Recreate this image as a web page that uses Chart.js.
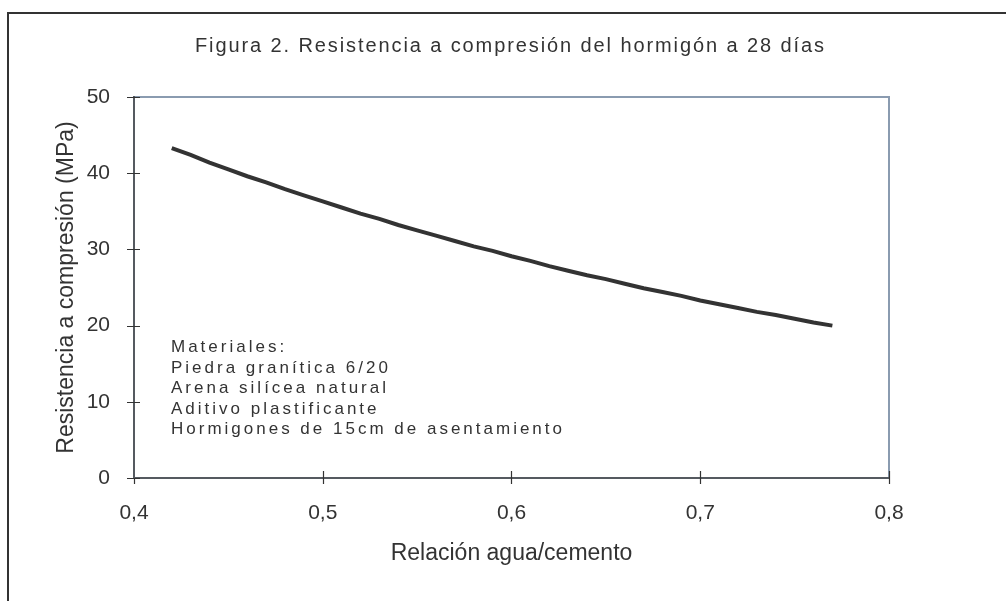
<!DOCTYPE html>
<html><head><meta charset="utf-8">
<script src="https://cdn.jsdelivr.net/npm/chart.js@4/dist/chart.umd.min.js"></script>
<style>html,body{margin:0;padding:0;background:#fff;}#wrap{width:1006px;height:601px;position:relative;}</style>
</head><body><div id="wrap"><canvas id="c" width="1006" height="601"></canvas></div>
<script>
const waterCementRatio = [0.42,0.43,0.44,0.45,0.46,0.47,0.48,0.49,0.50,0.51,0.52,0.53,0.54,0.55,0.56,0.57,0.58,0.59,0.60,0.61,0.62,0.63,0.64,0.65,0.66,0.67,0.68,0.69,0.70,0.71,0.72,0.73,0.74,0.75,0.76,0.77];
const strengthMPa = [43.3,42.4,41.4,40.5,39.6,38.8,37.9,37.1,36.3,35.5,34.7,34.0,33.2,32.5,31.8,31.1,30.4,29.8,29.1,28.5,27.8,27.2,26.6,26.1,25.5,24.9,24.4,23.9,23.3,22.8,22.3,21.8,21.4,20.9,20.4,20.0];
const xTickValues = [0.4,0.5,0.6,0.7,0.8];
const xTickLabels = ['0,4','0,5','0,6','0,7','0,8'];
const yTickValues = [0,10,20,30,40,50];
const yTickLabels = ['0','10','20','30','40','50'];
const chartTitle = 'Figura 2. Resistencia a compresión del hormigón a 28 días';
const xAxisTitle = 'Relación agua/cemento';
const yAxisTitle = 'Resistencia a compresión (MPa)';
const noteLines = ['Materiales:','Piedra granítica 6/20','Arena silícea natural','Aditivo plastificante','Hormigones de 15cm de asentamiento'];

const FONT = '"Liberation Sans", Arial, sans-serif';
const TXT = '#333333';

function labelFor(values, labels, v){
  for (let i=0;i<values.length;i++){ if (Math.abs(values[i]-v)<1e-6) return labels[i]; }
  return '';
}

const decor = {
  id:'decor',
  beforeDatasetsDraw(chart){
    const {ctx, chartArea:a, scales:{x,y}} = chart;
    ctx.save();
    ctx.fillStyle = '#333333';
    ctx.fillRect(7,12,1006,2);
    ctx.fillRect(7,12,2,601);
    ctx.strokeStyle = '#8a9bb0';
    ctx.lineWidth = 2;
    ctx.beginPath();
    ctx.moveTo(a.left, a.top); ctx.lineTo(a.right, a.top); ctx.lineTo(a.right, a.bottom);
    ctx.stroke();
    ctx.strokeStyle = '#555a60';
    ctx.beginPath();
    ctx.moveTo(a.left, a.top-1); ctx.lineTo(a.left, a.bottom); ctx.lineTo(a.right, a.bottom);
    ctx.stroke();
    ctx.lineWidth = 1.2;
    ctx.strokeStyle = '#333333';
    ctx.beginPath();
    yTickValues.forEach(v=>{
      const py = Math.round(y.getPixelForValue(v))+0.5;
      ctx.moveTo(a.left-7, py); ctx.lineTo(a.left+6, py);
    });
    xTickValues.forEach((v,i)=>{
      const px = Math.round(x.getPixelForValue(v))+0.5;
      const up = (i===0)?0:7;
      ctx.moveTo(px, a.bottom-up); ctx.lineTo(px, a.bottom+6);
    });
    ctx.stroke();
    ctx.fillStyle = TXT;
    ctx.font = '20px ' + FONT;
    ctx.textAlign = 'left';
    ctx.textBaseline = 'alphabetic';
    ctx.letterSpacing = '1.9px';
    ctx.fillText(chartTitle, 195, 52);
    ctx.font = '17px ' + FONT;
    ctx.letterSpacing = '3px';
    noteLines.forEach((t,i)=>{ ctx.fillText(t, 171, 352 + i*20.5); });
    ctx.restore();
  }
};

new Chart(document.getElementById('c'), {
  type:'line',
  data:{ datasets:[{
    data: waterCementRatio.map((w,i)=>({x:w, y:strengthMPa[i]})),
    borderColor:'#333333', borderWidth:4, pointRadius:0, tension:0, fill:false
  }]},
  options:{
    responsive:false, devicePixelRatio:1, animation:false,
    layout:{padding:{left:0,right:117,top:97,bottom:0}},
    plugins:{legend:{display:false}, tooltip:{enabled:false}, title:{display:false}},
    scales:{
      x:{type:'linear', min:0.4, max:0.8,
        afterFit(s){ s.height = 123; },
        afterBuildTicks(s){ s.ticks = xTickValues.map(v=>({value:v})); },
        grid:{display:false}, border:{display:false},
        ticks:{padding:15, color:TXT, font:{family:FONT,size:21}, maxRotation:0,
          callback:(v)=>labelFor(xTickValues,xTickLabels,v)},
        title:{display:true, text:xAxisTitle, color:TXT, font:{family:FONT,size:23}, padding:{top:0,bottom:34}}
      },
      y:{type:'linear', min:0, max:50,
        afterFit(s){ s.width = 134; },
        afterBuildTicks(s){ s.ticks = yTickValues.map(v=>({value:v})); },
        grid:{display:false}, border:{display:false},
        ticks:{padding:16, color:TXT, font:{family:FONT,size:21},
          callback:(v)=>labelFor(yTickValues,yTickLabels,v)},
        title:{display:true, text:yAxisTitle, color:TXT, font:{family:FONT,size:23}, padding:{top:53,bottom:0}}
      }
    }
  },
  plugins:[decor]
});
</script></body></html>
